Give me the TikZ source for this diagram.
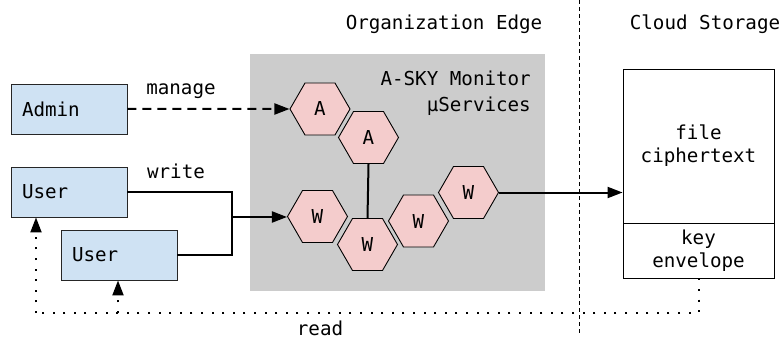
\documentclass[tikz,border=0pt]{standalone}
\usepackage{fontspec}
\setmonofont{DejaVu Sans Mono}
\usetikzlibrary{arrows.meta,shapes.geometric}

\definecolor{actorfill}{HTML}{CFE2F3}
\definecolor{svcfill}{HTML}{F4CCCC}
\definecolor{edgefill}{HTML}{CCCCCC}

\begin{document}
\begin{tikzpicture}[x=1pt,y=-1pt,
  font=\ttfamily\fontsize{19.2}{23}\selectfont,
  actor/.style={draw=black!85, fill=actorfill, line width=0.9pt,
    minimum width=116pt, minimum height=50pt, inner xsep=11pt, inner ysep=0pt,
    text width=94pt, align=left},
  svc/.style={draw=black, fill=svcfill, line width=0.9pt,
    regular polygon, regular polygon sides=6, minimum size=60pt, inner sep=0pt},
  store/.style={draw=black, fill=white, line width=0.9pt,
    minimum width=151pt, inner sep=0pt, align=center},
  lbl/.style={anchor=base, inner sep=0pt},
  tip/.style={-{Triangle[length=15pt,width=11pt]}},
  flow/.style={line width=2pt},
  mgmt/.style={line width=2pt, dash pattern=on 9pt off 6pt},
  readpath/.style={line width=2pt, dash pattern=on 2pt off 8.6pt}
]
\useasboundingbox (0,0) rectangle (781,342);

% organization edge zone
\fill[edgefill] (250,54) rectangle (545,291);

% zone separator
\draw[line width=0.8pt, dash pattern=on 4pt off 3pt] (579,0) -- (579,335);

% zone titles
\node[lbl] (orgtitle) at (444,30) {Organization Edge};
\node[lbl] (cloudtitle) at (705,30) {Cloud Storage};
\node[lbl, anchor=base east] (mon1) at (531,86) {A-SKY Monitor};
\node[lbl, anchor=base east] (mon2) at (531,111) {µServices};

% actors
\node[actor] (admin) at (69,109) {Admin};
\node[actor] (u1) at (69,192) {User};
\node[actor] (u2) at (119,255) {User};

% microservices
\node[svc] (a1) at (320,109) {A};
\node[svc] (a2) at (368.5,137.5) {A};
\node[svc] (w1) at (317.5,216.5) {W};
\node[svc] (w2) at (367.5,244.5) {W};
\node[svc] (w3) at (418.5,221) {W};
\node[svc] (w4) at (468.5,192.5) {W};

% cloud storage object
\node[store, minimum height=154pt] (file) at (698.5,146) {file\\ciphertext};
\node[store, minimum height=55pt] (key) at (698.5,250.5) {key\\envelope};

% manage
\draw[mgmt, tip] (admin.east) -- (a1.west);
\node[lbl] (managelbl) at (181,95) {manage};

% write
\coordinate (jn) at (232,217);
\draw[flow] (u1.east) -| (jn) |- (u2.east);
\draw[flow, tip] (jn) -- (jn -| w1.west);
\node[lbl] (writelbl) at (176,178) {write};

% internal link
\draw[flow] (a2.south) -- (w2.north);

% upload
\draw[flow, tip] (w4.east) -- (w4.east -| file.west);

% read
\coordinate (rdL) at (36,313);
\coordinate (rdM) at (118,313);
\draw[readpath] (key.south) |- (rdL);
\draw[readpath, tip] (rdL) -- (rdL |- u1.south);
\draw[readpath, tip] (rdM) -- (rdM |- u2.south);
\node[lbl] (readlbl) at (320,335) {read};
\end{tikzpicture}
\end{document}
